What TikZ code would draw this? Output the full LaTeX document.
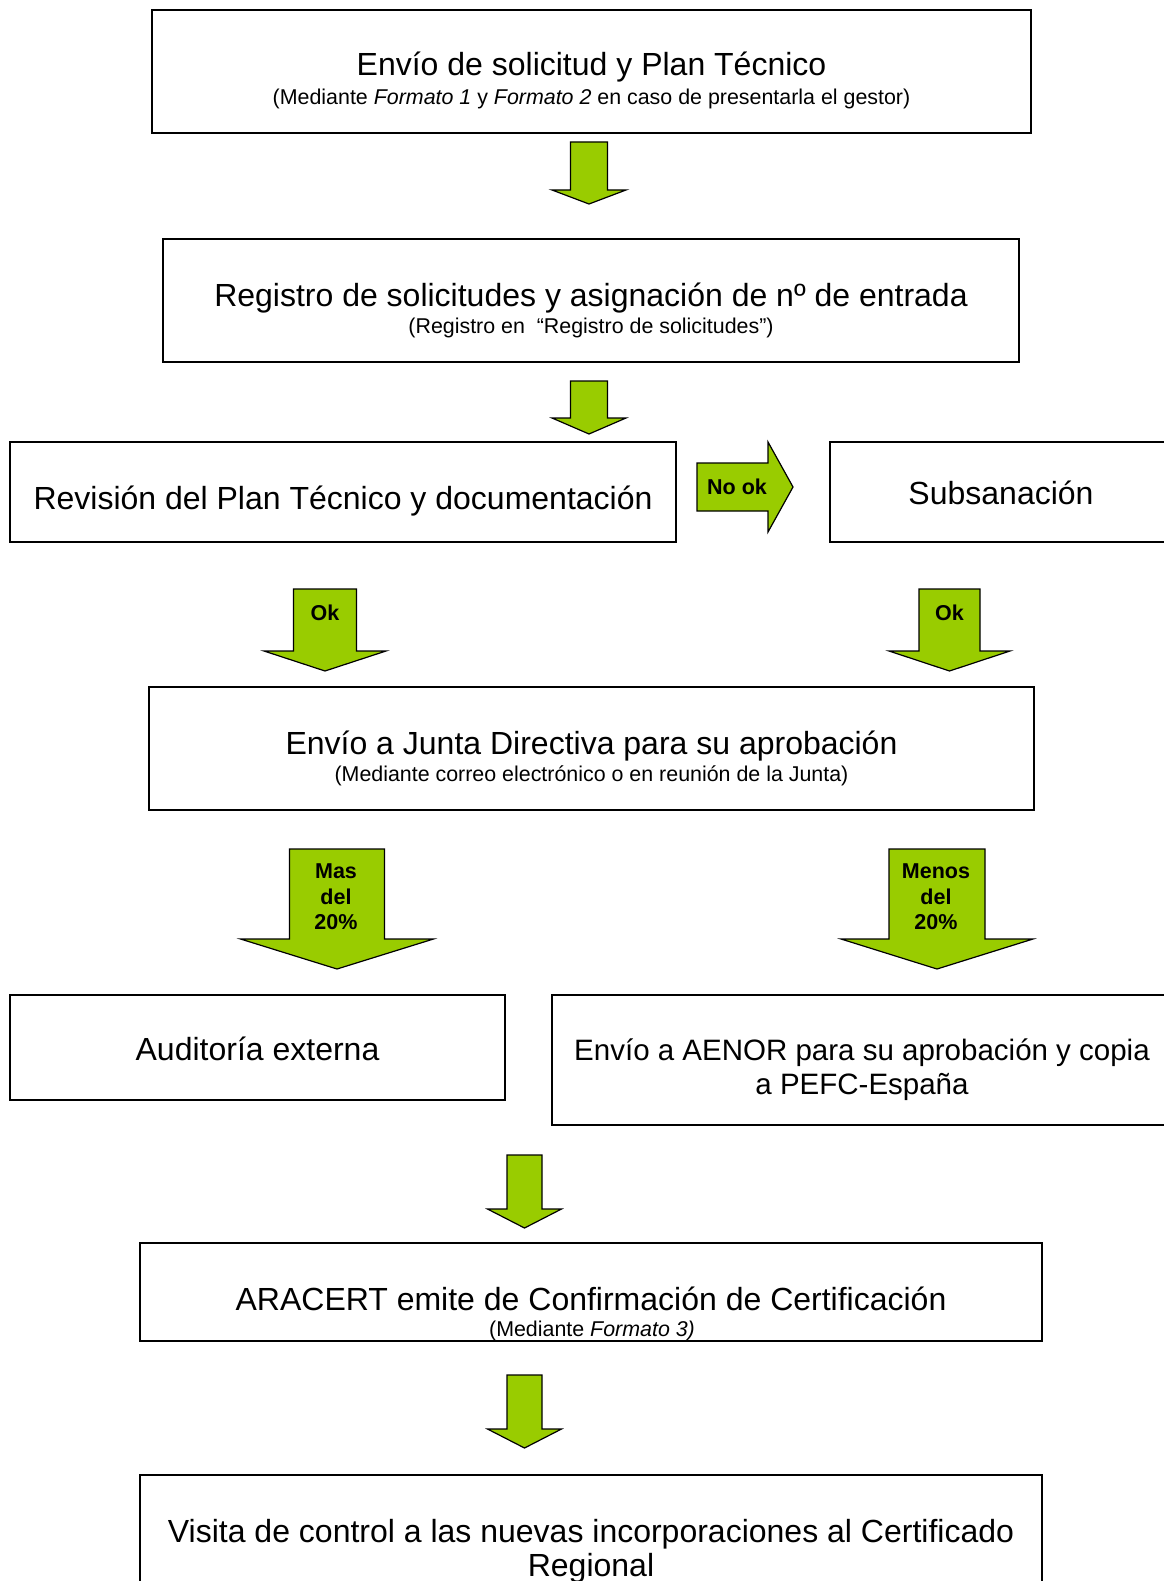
\documentclass[tikz,border=0pt]{standalone}
\usepackage{fontspec}
\setmainfont{Liberation Sans}
\usetikzlibrary{positioning}
\definecolor{flowgreen}{HTML}{99CC00}

\tikzset{
  box/.style={draw,line width=1.6pt,inner sep=0pt},
  garrow/.style={draw,fill=flowgreen,line width=1.2pt,line join=miter},
  maintxt/.style={font=\fontsize{32}{34}\selectfont,align=center,anchor=base,inner sep=0pt},
  subtxt/.style={font=\fontsize{21.4}{24}\selectfont,anchor=base,inner sep=0pt},
  lbl/.style={font=\bfseries\fontsize{21.5}{25.5}\selectfont,align=center,inner sep=0pt}
}

% block arrow pointing down: centre x, top, head base, tip, shaft half width, head half width
\newcommand{\blockdown}[6]{%
  \draw[garrow] (#1-#5,#2) -- (#1+#5,#2) -- (#1+#5,#3) -- (#1+#6,#3) -- (#1,#4)
    -- (#1-#6,#3) -- (#1-#5,#3) -- cycle;}

\begin{document}
\begin{tikzpicture}[x=1pt,y=-1pt]
\useasboundingbox (0,0) rectangle (1163,1581);

% boxes
\node[box,minimum width=879pt,minimum height=123pt] (envio) at (591.5,71.5) {};
\node[box,minimum width=856pt,minimum height=123pt] (registro) at (591,300.5) {};
\node[box,minimum width=666pt,minimum height=100pt] (revision) at (343,492) {};
\node[box,minimum width=350pt,minimum height=100pt] (subsan) at (1005,492) {};
\node[box,minimum width=885pt,minimum height=123pt] (junta) at (591.5,748.5) {};
\node[box,minimum width=495pt,minimum height=105pt] (auditoria) at (257.5,1047.5) {};
\node[box,minimum width=628pt,minimum height=130pt] (aenor) at (866,1060) {};
\node[box,minimum width=902pt,minimum height=98pt] (aracert) at (591,1292) {};
\node[box,minimum width=902pt,minimum height=125pt] (visita) at (591,1537.5) {};

% texts
\node[maintxt] (envioT) at (591.5,76) {Envío de solicitud y Plan Técnico};
\node[subtxt] (envioS) at (591.5,105) {(Mediante \textit{Formato 1} y \textit{Formato 2} en caso de presentarla el gestor)};
\node[maintxt] (registroT) at (591,306) {Registro de solicitudes y asignación de nº de entrada};
\node[subtxt] (registroS) at (591,333) {(Registro en~ “Registro de solicitudes”)};
\node[maintxt] (revisionT) at (343,509) {Revisión del Plan Técnico y documentación};
\node[maintxt] (subsanT) at (1001,504) {Subsanación};
\node[maintxt] (juntaT) at (591.5,754) {Envío a Junta Directiva para su aprobación};
\node[subtxt] (juntaS) at (591.5,781) {(Mediante correo electrónico o en reunión de la Junta)};
\node[maintxt] (auditoriaT) at (257.5,1060) {Auditoría externa};
\node[maintxt,font=\fontsize{29.5}{33.5}\selectfont] (aenorT) at (862,1094) {Envío a AENOR para su aprobación y copia\\a PEFC-España};
\node[maintxt] (aracertT) at (591,1310) {ARACERT emite de Confirmación de Certificación};
\node[subtxt] (aracertS) at (592,1336) {(Mediante \textit{Formato 3)}};
\node[maintxt] (visitaT) at (591,1576) {Visita de control a las nuevas incorporaciones al Certificado\\Regional};

% green arrows
\blockdown{589}{142}{190}{204}{18.5}{37}
\blockdown{589}{381}{418}{434}{18.5}{37}
\draw[garrow] (697,463) -- (768,463) -- (768,442) -- (793,487) -- (768,532) -- (768,511) -- (697,511) -- cycle;
\node[lbl] (nook) at (737,487) {No ok};
\blockdown{325}{589}{651}{671}{31.5}{61}
\node[lbl] (okL) at (325,613) {Ok};
\blockdown{949.5}{589}{651}{671}{30.5}{60.5}
\node[lbl] (okR) at (949.5,613) {Ok};
\blockdown{337}{849}{939}{969}{47.5}{96.5}
\node[lbl] (mas) at (336,897) {Mas\\del\\20\%};
\blockdown{937}{849}{939}{969}{48}{96}
\node[lbl] (menos) at (936,897) {Menos\\del\\20\%};
\blockdown{524.5}{1155}{1209}{1228}{17.5}{37}
\blockdown{524.5}{1375}{1429}{1448}{17.5}{37}
\end{tikzpicture}
\end{document}
